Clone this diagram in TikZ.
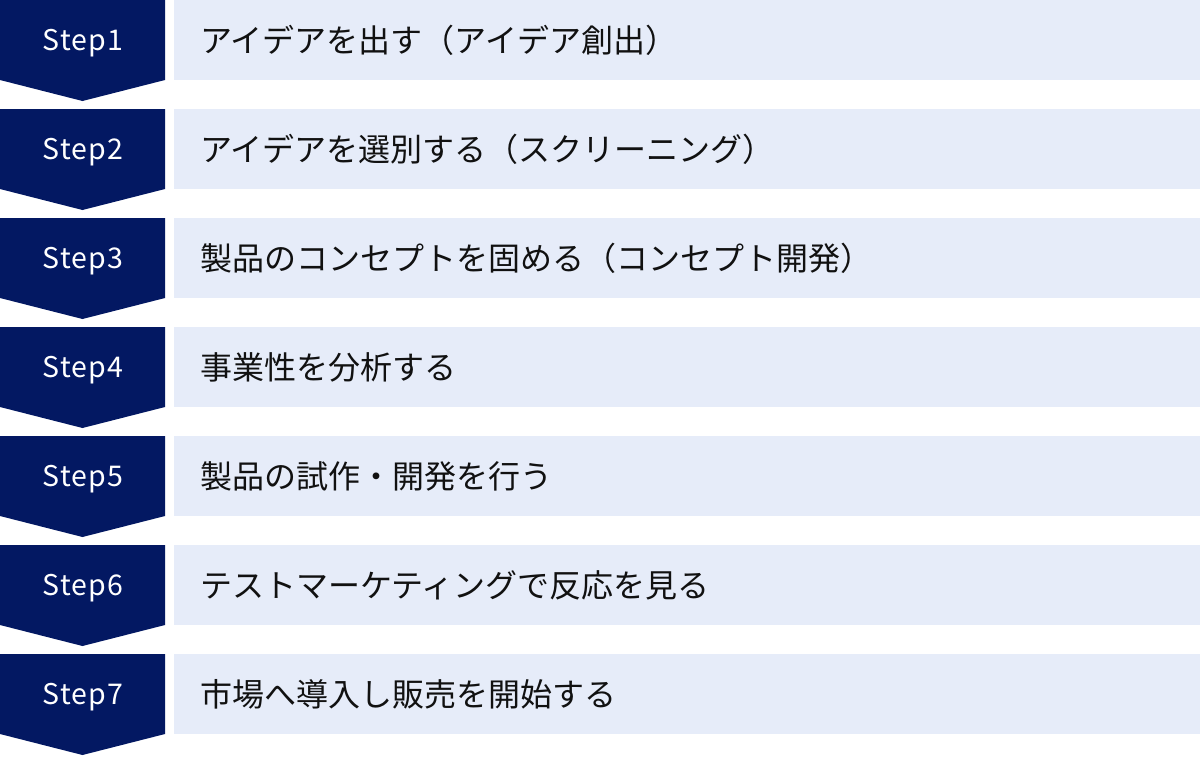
\documentclass[tikz,border=0pt]{standalone}
\usepackage{fontspec}
\setmainfont{Noto Sans CJK JP}
\newfontfamily\stepfont[LetterSpace=4]{Noto Sans CJK JP}
\definecolor{navy}{HTML}{031862}
\definecolor{pale}{HTML}{E6ECF9}
\definecolor{ink}{HTML}{111111}
\begin{document}
\begin{tikzpicture}[x=1pt,y=1pt,
  steplabel/.style={text=white,font=\stepfont\fontsize{28.5}{32}\selectfont,inner sep=0pt},
  rowbox/.style={fill=pale,draw=none,minimum width=1026pt,minimum height=80pt,inner sep=0pt,anchor=north west},
  rowtext/.style={text=ink,font=\fontsize{32}{36}\selectfont,inner sep=0pt,anchor=west}]
\useasboundingbox (0,0) rectangle (1200,-756);
\foreach \i/\txt in {1/アイデアを出す（アイデア創出）,
                     2/アイデアを選別する（スクリーニング）,
                     3/製品のコンセプトを固める（コンセプト開発）,
                     4/事業性を分析する,
                     5/製品の試作・開発を行う,
                     6/テストマーケティングで反応を見る,
                     7/市場へ導入し販売を開始する}{
  \pgfmathsetmacro{\t}{-109*(\i-1)}
  \fill[navy] (0,\t) -- (165,\t) -- (165,\t-80) -- (82.5,\t-101) -- (0,\t-80) -- cycle;
  \node[steplabel] (s\i) at (83,\t-43) {Step\i};
  \node[rowbox] (r\i) at (174,\t) {};
  \node[rowtext] (t\i) at (200,\t-40) {\txt};
}
\end{tikzpicture}
\end{document}
